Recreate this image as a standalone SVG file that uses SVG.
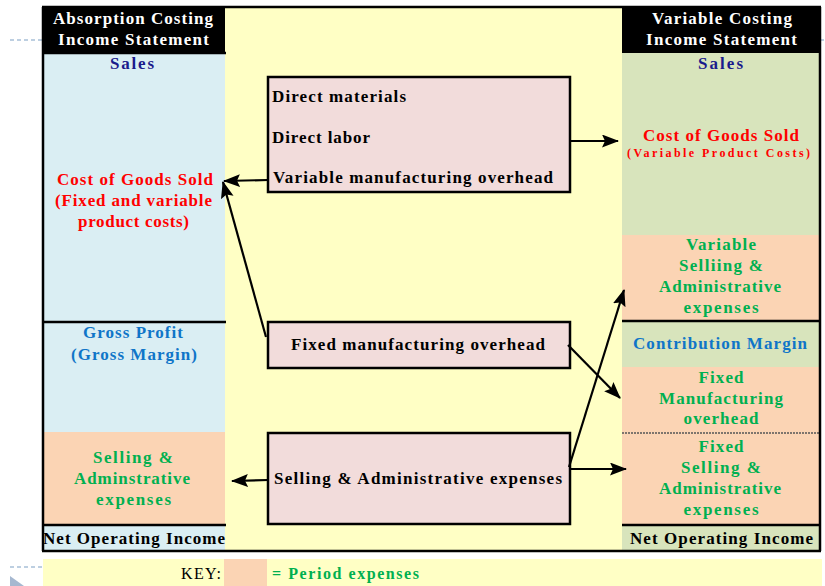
<svg xmlns="http://www.w3.org/2000/svg" width="825" height="586" viewBox="0 0 825 586">
<style>
text{font-family:"Liberation Serif","Times New Roman",serif;font-weight:bold;font-size:17px}
.c{text-anchor:middle}
.s11{font-size:12px}
.key{font-size:16px}
.nw{font-weight:normal}
.wh{fill:#ffffff}
.nv{fill:#1a1a8c}
.rd{fill:#ff0000}
.bl{fill:#0f75c8}
.gr{fill:#00b050}
.bk{fill:#000000}
.box{fill:#f2dcdb;stroke:#000;stroke-width:2.5}
.ln{stroke:#000;stroke-width:2.5;fill:none}
.conn line{stroke:#000;stroke-width:2.2;marker-end:url(#ah)}
.deco{stroke:#a8c0d8;stroke-width:1.5;stroke-dasharray:4 3;fill:none}
</style>
<defs>
<marker id="ah" markerUnits="userSpaceOnUse" markerWidth="17" markerHeight="14" refX="16" refY="6.5" orient="auto" viewBox="0 0 17 14">
<path d="M0,0 L17,6.5 L0,13 L3,6.5 z" fill="#000"/>
</marker>
</defs>
<rect x="0" y="0" width="825" height="586" fill="#ffffff"/>
<!-- decorations -->
<line class="deco" x1="10" y1="40" x2="42" y2="40"/>
<line class="deco" x1="820" y1="40" x2="825" y2="40"/>
<line class="deco" x1="10" y1="567" x2="42" y2="567"/>
<polygon points="10,576 24,586 10,586" fill="#a6b8d0"/>
<!-- main background -->
<rect x="42" y="7" width="778" height="544" fill="#ffffc5"/>
<!-- left column -->
<g id="absorption">
<rect x="43" y="53" width="182" height="379" fill="#daeef3"/>
<rect x="43" y="432" width="182" height="93" fill="#fbd4b4"/>
<rect x="43" y="525" width="182" height="25" fill="#daeef3"/>
<rect x="42" y="7" width="183" height="46" fill="#000"/>
<text class="c wh" x="133" y="24" textLength="160" lengthAdjust="spacing">Absorption Costing</text>
<text class="c wh" x="133.5" y="45" textLength="151" lengthAdjust="spacing">Income Statement</text>
<text class="c nv" x="132" y="69" textLength="44" lengthAdjust="spacing">Sales</text>
<text class="c rd" x="135" y="185" textLength="156" lengthAdjust="spacing">Cost of Goods Sold</text>
<text class="c rd" x="133.5" y="206" textLength="157" lengthAdjust="spacing">(Fixed and variable</text>
<text class="c rd" x="133.5" y="227" textLength="111" lengthAdjust="spacing">product costs)</text>
<text class="c bl" x="133" y="338" textLength="100" lengthAdjust="spacing">Gross Profit</text>
<text class="c bl" x="134" y="360" textLength="126" lengthAdjust="spacing">(Gross Margin)</text>
<text class="c gr" x="133" y="463" textLength="80" lengthAdjust="spacing">Selling &amp;</text>
<text class="c gr" x="132" y="484" textLength="116" lengthAdjust="spacing">Adminstrative</text>
<text class="c gr" x="133.5" y="505" textLength="75" lengthAdjust="spacing">expenses</text>
<text class="c bk" x="134" y="544" textLength="182" lengthAdjust="spacing">Net Operating Income</text>
<line class="ln" x1="42" y1="53" x2="226" y2="53"/>
<line class="ln" x1="42" y1="322" x2="226" y2="322"/>
<line class="ln" x1="42" y1="525" x2="226" y2="525"/>
<line class="ln" x1="43" y1="7" x2="43" y2="551"/>
</g>
<!-- right column -->
<g id="variable">
<rect x="622" y="53" width="198" height="182" fill="#d8e4bc"/>
<rect x="622" y="235" width="198" height="86" fill="#fbd4b4"/>
<rect x="622" y="321" width="198" height="46" fill="#d8e4bc"/>
<rect x="622" y="367" width="198" height="158" fill="#fbd4b4"/>
<rect x="622" y="525" width="198" height="25" fill="#d8e4bc"/>
<rect x="622" y="7" width="198" height="46" fill="#000"/>
<text class="c wh" x="722" y="24" textLength="140" lengthAdjust="spacing">Variable Costing</text>
<text class="c wh" x="721.5" y="45" textLength="151" lengthAdjust="spacing">Income Statement</text>
<text class="c nv" x="720.5" y="69" textLength="45" lengthAdjust="spacing">Sales</text>
<text class="c rd" x="721" y="141" textLength="156" lengthAdjust="spacing">Cost of Goods Sold</text>
<text class="c rd s11" x="718.5" y="157" textLength="183" lengthAdjust="spacing">(Variable Product Costs)</text>
<text class="c gr" x="721" y="250" textLength="70" lengthAdjust="spacing">Variable</text>
<text class="c gr" x="721" y="271" textLength="84" lengthAdjust="spacing">Selliing &amp;</text>
<text class="c gr" x="720" y="292" textLength="122" lengthAdjust="spacing">Administrative</text>
<text class="c gr" x="721" y="313" textLength="75" lengthAdjust="spacing">expenses</text>
<text class="c bl" x="720" y="349" textLength="174" lengthAdjust="spacing">Contribution Margin</text>
<text class="c gr" x="721" y="383" textLength="45" lengthAdjust="spacing">Fixed</text>
<text class="c gr" x="721" y="404" textLength="124" lengthAdjust="spacing">Manufacturing</text>
<text class="c gr" x="721" y="424" textLength="75" lengthAdjust="spacing">overhead</text>
<text class="c gr" x="721" y="452" textLength="45" lengthAdjust="spacing">Fixed</text>
<text class="c gr" x="721" y="473" textLength="80" lengthAdjust="spacing">Selling &amp;</text>
<text class="c gr" x="720" y="494" textLength="122" lengthAdjust="spacing">Administrative</text>
<text class="c gr" x="721" y="515" textLength="75" lengthAdjust="spacing">expenses</text>
<text class="c bk" x="721.5" y="544" textLength="183" lengthAdjust="spacing">Net Operating Income</text>
<line class="ln" x1="622" y1="321" x2="821" y2="321"/>
<line x1="622" y1="433" x2="821" y2="433" stroke="#555" stroke-width="1.5" stroke-dasharray="2 1"/>
<line class="ln" x1="622" y1="525" x2="821" y2="525"/>
<line class="ln" x1="820" y1="7" x2="820" y2="551"/>
</g>
<!-- frame -->
<line class="ln" x1="42" y1="7" x2="821" y2="7"/>
<line class="ln" x1="42" y1="551" x2="821" y2="551"/>
<!-- middle nodes -->
<g id="variable-costs">
<rect class="box" x="268" y="77" width="302" height="115"/>
<text x="272" y="102" textLength="134" lengthAdjust="spacing">Direct materials</text>
<text x="272" y="143" textLength="98" lengthAdjust="spacing">Direct labor</text>
<text x="273" y="183" textLength="280" lengthAdjust="spacing">Variable manufacturing overhead</text>
</g>
<g id="fixed-moh">
<rect class="box" x="268" y="322" width="302" height="46"/>
<text class="c" x="418" y="350" textLength="254" lengthAdjust="spacing">Fixed manufacturing overhead</text>
</g>
<g id="sga">
<rect class="box" x="268" y="433" width="302" height="91"/>
<text class="c" x="418" y="484" textLength="288" lengthAdjust="spacing">Selling &amp; Administrative expenses</text>
</g>
<!-- connectors -->
<g id="connectors" class="conn">
<line x1="570" y1="141" x2="618" y2="141"/>
<line x1="268" y1="180" x2="224" y2="181"/>
<line x1="266" y1="337" x2="223" y2="182"/>
<line x1="568" y1="345" x2="620" y2="398"/>
<line x1="569" y1="467" x2="624" y2="290"/>
<line x1="570" y1="469" x2="626" y2="469"/>
<line x1="268" y1="480" x2="232" y2="481"/>
</g>
<!-- key -->
<g id="key">
<rect x="43" y="559" width="779" height="27" fill="#ffffc5"/>
<rect x="224" y="559" width="43" height="27" fill="#fbd4b4"/>
<text x="181" y="579" class="bk nw key" textLength="40" lengthAdjust="spacing">KEY:</text>
<text x="272" y="579" class="gr key" textLength="147" lengthAdjust="spacing">= Period expenses</text>
</g>
</svg>
